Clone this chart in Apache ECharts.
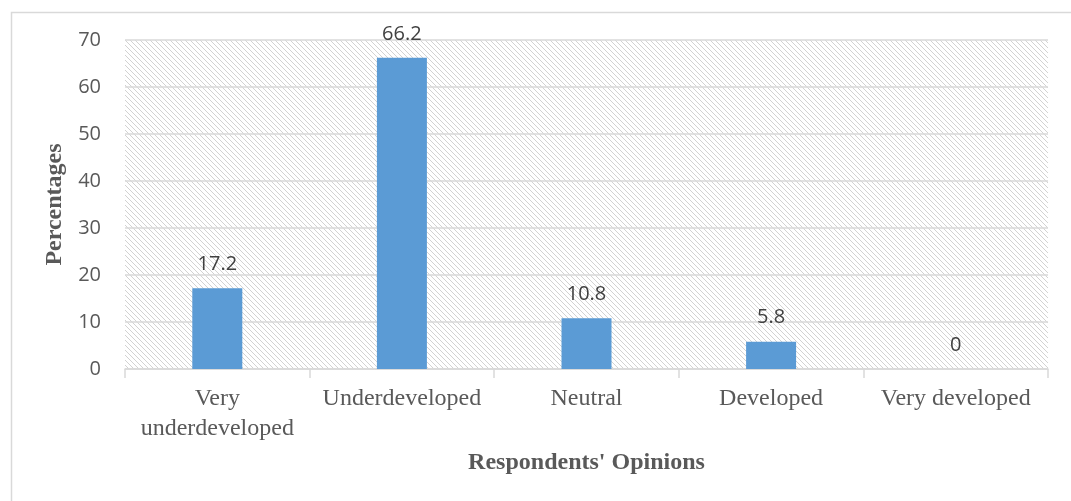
<!DOCTYPE html>
<html>
<head>
<meta charset="utf-8">
<script src="https://cdn.jsdelivr.net/npm/echarts@6/dist/echarts.min.js"></script>
<style>
  html, body { margin: 0; padding: 0; background: #fff; }
  #chart { width: 1071px; height: 501px; }
</style>
</head>
<body>
<div id="chart"></div>
<script>
// Survey: respondents' opinions on development level
const categories = ['Very\nunderdeveloped', 'Underdeveloped', 'Neutral', 'Developed', 'Very developed'];
const percentages = [17.2, 66.2, 10.8, 5.8, 0];
const yTicks = [0, 10, 20, 30, 40, 50, 60, 70];

// Light diagonal hatch used as the plot-area background
function makeHatch() {
  const size = 5;
  const c = document.createElement('canvas');
  c.width = size; c.height = size;
  const ctx = c.getContext('2d');
  ctx.fillStyle = '#ffffff';
  ctx.fillRect(0, 0, size, size);
  ctx.fillStyle = '#d2d2d2';
  for (let i = 0; i < size; i++) ctx.fillRect(i, i, 1, 1);
  return c;
}

const chart = echarts.init(document.getElementById('chart'), null, { renderer: 'canvas' });

chart.setOption({
  animation: false,
  backgroundColor: '#ffffff',
  graphic: [{
    type: 'rect',
    left: 9, top: 10,
    shape: { width: 1080, height: 500 },
    style: { fill: 'none', stroke: '#d9d9d9', lineWidth: 1.5 },
    silent: true,
    z: -1
  }],
  grid: {
    left: 125, right: 23, top: 40, bottom: 132,
    show: true,
    borderWidth: 0,
    backgroundColor: { image: makeHatch(), repeat: 'repeat' }
  },
  xAxis: {
    type: 'category',
    data: categories,
    name: "Respondents' Opinions",
    nameLocation: 'middle',
    nameGap: 82,
    nameTextStyle: {
      fontFamily: 'Liberation Serif', fontWeight: 'bold', fontSize: 24, color: '#595959'
    },
    axisLine: { show: true, lineStyle: { color: '#d9d9d9', width: 1.5 } },
    axisTick: { show: true, length: 9, alignWithLabel: false, lineStyle: { color: '#d9d9d9', width: 1.5 } },
    axisLabel: {
      fontFamily: 'Liberation Serif', fontSize: 24, color: '#595959',
      lineHeight: 30, margin: 15, interval: 0
    }
  },
  yAxis: {
    type: 'value',
    min: yTicks[0], max: yTicks[yTicks.length - 1], interval: 10,
    name: 'Percentages',
    nameLocation: 'middle',
    nameGap: 55,
    nameRotate: 90,
    nameTextStyle: {
      fontFamily: 'Liberation Serif', fontWeight: 'bold', fontSize: 24, color: '#595959'
    },
    axisLine: { show: false },
    axisTick: { show: false },
    splitLine: { show: true, lineStyle: { color: '#d9d9d9', width: 1.5 } },
    axisLabel: {
      fontFamily: 'Open Sans', fontSize: 20, color: '#595959', margin: 24
    }
  },
  series: [{
    type: 'bar',
    data: percentages,
    barWidth: 50,
    itemStyle: { color: '#5b9bd5' },
    label: {
      show: true, position: 'top', distance: 14,
      fontFamily: 'Open Sans', fontSize: 20, color: '#404040'
    }
  }]
});
</script>
</body>
</html>
